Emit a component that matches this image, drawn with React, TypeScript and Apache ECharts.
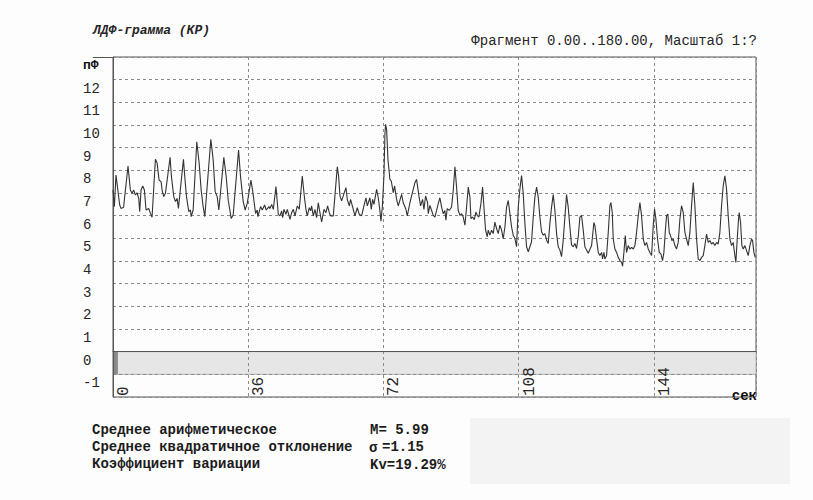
import React, { useEffect, useRef } from "react";
import * as echarts from "echarts";

// ЛДФ-грамма: время (с) и показатель перфузии (пФ)
const timeSec = [
  0, 0.36, 0.8, 1.78, 2.13, 2.84, 3.02, 4.0, 4.62, 5.07, 5.51, 5.96, 6.4, 6.85, 7.11, 7.47, 7.91, 8.36, 8.8, 9.51,
  9.96, 10.4, 11.29, 11.73, 12.27, 12.8, 13.07, 13.51, 13.96, 15.2, 15.56, 16.18, 16.62, 17.07, 17.42, 18.76, 19.11,
  19.56, 20.18, 20.62, 20.8, 21.34, 22.31, 22.94, 23.47, 24.0, 24.45, 26.05, 26.67, 27.2, 27.74, 28.18, 29.51, 30.14,
  30.67, 31.11, 31.47, 32.0, 33.43, 33.96, 34.67, 35.2, 35.74, 36.72, 37.16, 37.96, 38.4, 38.58, 39.29, 39.74, 40.36,
  40.8, 41.52,
  41.79, 42.24, 42.68, 43.39, 44.01, 44.45, 44.9, 45.16, 45.52, 46.05, 46.41, 47.12, 47.56, 48.0, 48.45, 49.07, 49.6,
  50.4, 50.93, 51.37, 51.73, 52.26, 52.62, 52.88, 53.33, 53.77, 54.21, 54.66, 55.1, 55.55, 56.17, 56.7, 57.14, 57.59,
  57.94, 58.65, 59.72, 60.07, 60.43, 60.87, 62.02, 62.38, 62.91, 63.26, 63.97, 64.42, 65.04, 65.57, 66.19, 66.81,
  67.35, 67.7, 68.41, 68.77, 69.12, 69.48, 70.19, 70.63, 71.07, 71.34, 71.69, 72.14, 72.4, 72.58, 72.85, 73.2, 73.73,
  74.09, 74.62, 74.98, 75.51, 75.95, 76.84, 77.28, 77.99, 78.35, 79.06, 79.5, 80.39, 80.83, 81.45, 81.9, 82.43, 82.78,
  83.23, 83.76,
  83.94, 84.38, 84.83, 85.27, 85.71, 86.16, 86.6, 87.04, 87.49, 87.93, 88.37, 88.64, 88.98, 89.53, 90.15, 90.59,
  91.04, 91.48, 91.92, 92.37, 92.81, 93.25, 93.7, 94.14, 94.59, 95.03, 95.3, 95.74, 96.18, 96.63, 96.98, 97.42, 97.96,
  98.4, 98.76, 99.2, 99.64, 99.91, 100.35, 100.8, 101.24, 101.68, 102.13, 102.57, 103.02, 103.46, 103.9, 104.35,
  104.79, 105.23, 105.68, 106.12, 106.56, 107.01, 107.45, 107.9, 108.34, 108.78, 109.23, 109.67, 110.11, 110.56,
  111.0, 111.44, 111.89, 112.33, 112.78, 113.22, 113.66, 114.11, 114.55, 114.99, 115.44, 115.88, 116.32, 116.77,
  117.21, 117.66, 118.1, 118.54, 118.99, 119.43, 119.87, 120.32, 120.76, 121.2, 121.65, 122.09, 122.54, 122.98,
  123.42, 123.87, 124.31, 124.75, 125.2, 125.64, 126.09, 126.53,
  127.42, 128.04, 128.31, 128.75, 129.2, 129.64, 130.09, 130.35, 130.71, 130.97, 131.42, 131.86, 132.3, 132.57,
  132.93, 133.19, 133.63, 134.08, 134.52, 134.97, 135.41, 135.68, 136.03, 136.39, 136.74, 137.18, 137.63, 138.07,
  138.52, 138.96, 139.4, 139.85, 140.29, 140.73, 141.18, 141.62, 142.06, 142.51, 142.95, 143.4, 143.84, 144.19,
  144.55, 144.99, 145.44, 145.88, 146.32, 146.68, 147.03, 147.39, 147.74, 148.1, 148.45, 148.81, 149.16, 149.61,
  150.05, 150.49, 150.94, 151.38, 151.82, 152.27, 152.71, 153.16, 153.6, 154.04, 154.49, 154.93, 155.37, 155.82,
  156.26, 156.71, 157.15, 157.59, 158.04, 158.48, 158.92, 159.37, 159.81, 160.25, 160.7, 161.14, 161.58, 162.03,
  162.47, 162.92, 163.36, 163.8, 164.25, 164.69, 165.13, 165.58, 165.84, 166.2, 166.55, 166.73, 167.09, 167.44,
  167.8, 168.24, 168.68, 169.13, 169.57, 170.01, 170.28, 170.64, 170.99,
];

const ldfValues = [
  7.13, 6.4, 7.79, 6.47, 6.32, 6.37, 6.69, 8.19, 7.13, 6.99, 7.13, 6.91, 7.01, 6.76, 6.18, 7.13, 7.31, 7.13, 6.25, 6.32,
  6.1, 5.93, 8.49, 8.34, 7.57, 7.5, 7.13, 6.84, 6.99, 8.57, 7.72, 6.84, 6.62, 6.76, 6.32, 8.49, 7.72,
  6.84, 6.18, 6.25, 5.96, 6.25, 9.26, 8.31, 7.13, 6.4, 5.96, 9.37, 8.46, 7.06, 6.84, 6.25, 8.57, 7.72,
  6.69, 6.25, 5.88, 6.03, 8.9, 7.72, 6.62, 6.25, 6.54, 7.57, 7.13, 6.1, 6.25, 5.96, 6.4, 6.25, 6.47,
  6.25, 6.4,
  6.31, 6.5, 6.28, 7.28, 6.06, 5.99, 6.21, 5.91, 6.28, 6.06, 6.28, 5.84, 6.13, 6.28, 5.99, 6.43, 6.28,
  7.75, 6.87, 6.28, 5.99, 6.35, 6.21, 6.43, 5.99, 6.28, 5.91, 6.57, 6.13, 5.72, 6.28, 6.13, 6.43, 6.13,
  5.99, 5.99, 8.16, 7.75, 6.87, 6.65, 7.24, 6.72, 6.43, 6.72, 6.28, 5.99, 6.35, 6.06, 5.99, 6.43,
  6.79, 6.43, 6.79, 6.28, 6.72, 6.5, 7.16, 6.79, 6.21, 5.76, 6.35, 7.75, 9.59, 10.03, 9.81, 8.49, 7.6,
  7.53, 7.01, 7.31, 6.72, 6.43, 6.94, 6.57, 6.28, 5.99, 6.57, 6.87, 7.46, 7.6, 6.87, 6.43, 6.72, 6.28,
  6.87, 6.57,
  6.09, 6.45, 6.23, 6.01, 5.94, 6.23, 6.53, 6.79, 6.38, 6.09, 6.23, 5.8, 6.31, 6.23, 6.38, 7.11,
  8.16, 7.26, 6.23, 6.01, 6.09, 5.94, 5.58, 6.38, 7.26, 6.82, 5.87, 5.94, 5.82, 6.16, 6.01, 5.94, 6.53,
  7.26, 6.38, 5.36, 5.07, 5.36, 5.14, 5.36, 5.21, 5.72, 5.43, 5.21, 5.58, 5.36, 4.99, 5.5,
  6.38, 6.67, 6.09, 5.5, 5.14, 4.99, 4.63, 6.38, 7.18, 7.77, 6.96, 5.65, 4.63, 4.41,
  4.63, 4.85, 5.94, 6.82, 7.26, 6.82, 5.94, 5.28, 5.14, 5.21, 4.92, 4.77, 5.65, 6.38,
  6.93, 6.23, 5.21, 4.63, 4.48, 4.19, 4.92, 5.94, 6.93, 6.38, 5.5, 4.7, 4.63, 4.77,
  4.55, 5.07, 5.94, 6.01, 5.36, 4.63, 4.48, 4.34,
  4.68, 5.7, 5.56, 4.97, 4.38, 4.24, 4.38, 4.09, 4.38, 4.09, 4.24, 5.26, 6.44, 6.58,
  6.14, 4.97, 4.53, 4.38, 4.16, 4.02, 3.94, 3.77, 4.38, 5.12, 4.38, 4.68, 4.53, 4.6,
  4.53, 4.68, 5.26, 6.0, 6.58, 6.0, 4.97, 4.68, 4.82, 4.53, 4.38, 4.24, 5.56, 6.29,
  5.85, 4.97, 4.38, 4.31, 4.02, 4.38, 5.26, 6.0, 6.07, 5.26, 5.12, 4.9, 4.97, 4.68,
  4.53, 4.82, 5.85, 6.44, 6.14, 5.26, 4.97, 4.68, 5.26, 6.44, 7.46, 6.44, 4.97, 4.09,
  4.02, 4.16, 4.24, 4.68, 5.19, 4.82, 4.9, 4.75, 4.82, 4.68, 4.82, 4.75, 5.26, 6.44,
  7.32, 7.76, 7.17, 6.0, 4.97, 4.68, 4.82, 4.24, 3.94, 4.97, 5.85, 6.14, 5.7, 4.68,
  4.53, 4.68, 4.46, 4.24, 4.68, 4.97, 4.9, 4.38, 4.16,
];

const timeTicks = [0, 36, 72, 108, 144];
const statNames = ["Среднее арифметическое", "Среднее квадратичное отклонение", "Коэффициент вариации"];
const statMean = "5.99";
const statSigma = "1.15";
const statKv = "19.29%";

const MONO = "'Liberation Mono', 'DejaVu Sans Mono', monospace";
const INK = "#262626";

export default function App() {
  const ref = useRef<HTMLDivElement>(null);

  useEffect(() => {
    if (!ref.current) return;
    const chart = echarts.init(ref.current, null, { renderer: "svg" });
    const points = timeSec.map((t, i) => [t, ldfValues[i]]);

    chart.setOption({
      animation: false,
      backgroundColor: "#fdfdfd",
      grid: {
        left: 113,
        right: 57,
        top: 57,
        bottom: 103,
        show: true,
        borderColor: "#555",
        borderWidth: 1,
        backgroundColor: "transparent",
      },
      xAxis: {
        type: "value",
        min: 0,
        max: 171.2,
        interval: 36,
        z: 2,
        axisLine: { show: true, lineStyle: { color: "#555", width: 1 } },
        axisTick: { show: false },
        splitLine: { show: true, lineStyle: { color: "#8a8a8a", type: [3, 3], width: 1 } },
        axisLabel: {
          inside: true,
          rotate: 90,
          margin: 0,
          align: "left",
          verticalAlign: "top",
          padding: [3, 0, 0, 1],
          fontFamily: MONO,
          fontSize: 16,
          color: INK,
          overflow: "none",
          hideOverlap: false,
          showMaxLabel: false,
          formatter: (v: number) => (timeTicks.includes(v) ? String(v) : ""),
        },
      },
      yAxis: {
        type: "value",
        min: -2,
        max: 13,
        interval: 1,
        z: 2,
        axisLine: { show: true, lineStyle: { color: "#555", width: 1 } },
        axisTick: { show: false },
        splitLine: { show: true, lineStyle: { color: "#8a8a8a", type: [3, 3], width: 1 } },
        axisLabel: {
          margin: 30,
          align: "left",
          verticalAlign: "top",
          padding: [2, 0, 0, 0],
          fontFamily: MONO,
          fontSize: 14,
          color: INK,
          formatter: (v: number) => (v === 13 ? "{u|пФ}" : v === -2 ? "" : String(v)),
          rich: { u: { fontFamily: MONO, fontSize: 13, fontWeight: "bold", color: "#111" } },
        },
      },
      series: [
        {
          // grey strip between 0 and -1 with the zero marker on the axis
          type: "line",
          data: [],
          z: 1,
          markArea: {
            silent: true,
            data: [
              [{ yAxis: 0, itemStyle: { color: "#e6e6e6", borderColor: "#b4b4b4", borderWidth: 1 } }, { yAxis: -1 }],
              [{ xAxis: 0, yAxis: 0, itemStyle: { color: "#8a8a8a" } }, { xAxis: 1.3, yAxis: -1 }],
            ],
          },
        },
        {
          type: "line",
          data: points,
          showSymbol: false,
          symbol: "none",
          lineStyle: { color: "#333", width: 1.1 },
          z: 5,
        },
      ],
      graphic: [
        { type: "line", shape: { x1: 93, y1: 57.5, x2: 113, y2: 57.5 }, style: { stroke: "#555", lineWidth: 1 } },
        {
          type: "text",
          style: {
            x: 93, y: 30, text: "ЛДФ-грамма (КР)", align: "left", verticalAlign: "middle",
            font: `italic bold 13px ${MONO}`, fill: INK,
          },
        },
        {
          type: "text",
          style: {
            x: 757, y: 41, text: "Фрагмент 0.00..180.00, Масштаб 1:?", align: "right", verticalAlign: "middle",
            font: `14px ${MONO}`, fill: INK,
          },
        },
        {
          type: "text",
          style: {
            x: 757, y: 396, text: "сек", align: "right", verticalAlign: "middle",
            font: `bold 14px ${MONO}`, fill: "#111",
          },
        },
        { type: "rect", shape: { x: 470, y: 418, width: 320, height: 66 }, style: { fill: "#f3f3f3" }, z: -1 },
        ...statNames.map((s, i) => ({
          type: "text",
          style: {
            x: 92, y: 430 + i * 17.2, text: s, align: "left", verticalAlign: "middle",
            font: `bold 14px ${MONO}`, fill: "#1c1c1c",
          },
        })),
        {
          type: "text",
          style: { x: 370, y: 430, text: `M= ${statMean}`, align: "left", verticalAlign: "middle", font: `bold 14px ${MONO}`, fill: "#1c1c1c" },
        },
        {
          type: "text",
          style: { x: 369, y: 448, text: "σ", align: "left", verticalAlign: "middle", font: `bold 14px ${MONO}`, fill: "#1c1c1c" },
        },
        {
          type: "text",
          style: { x: 382, y: 446.5, text: `=${statSigma}`, align: "left", verticalAlign: "middle", font: `bold 14px ${MONO}`, fill: "#1c1c1c" },
        },
        {
          type: "text",
          style: { x: 370, y: 464.6, text: `Kv=${statKv}`, align: "left", verticalAlign: "middle", font: `bold 14px ${MONO}`, fill: "#1c1c1c" },
        },
      ],
    });

    return () => chart.dispose();
  }, []);

  return (
    <div
      ref={ref}
      style={{ position: "absolute", left: 0, top: 0, width: 813, height: 500 }}
    />
  );
}
